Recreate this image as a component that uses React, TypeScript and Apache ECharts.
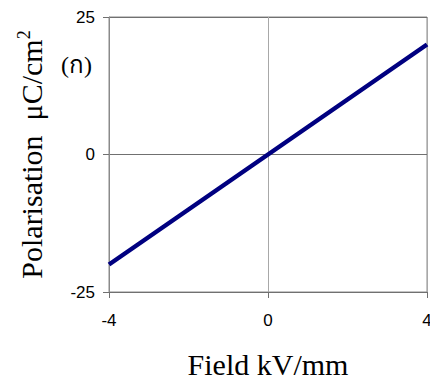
import React, { useEffect, useRef } from "react";
import * as echarts from "echarts";

const field = [-4, -2, 0, 2, 4];
const polarisation = [-20, -10, 0, 10, 20];
const xTicks = { min: -4, max: 4, interval: 4 };
const yTicks = { min: -25, max: 25, interval: 25 };
const xTitle = "Field kV/mm";
const yTitle = "Polarisation  μC/cm";
const panelLabel = "(ก)";

export default function App() {
  const ref = useRef<HTMLDivElement>(null);
  useEffect(() => {
    if (!ref.current) return;
    const chart = echarts.init(ref.current, null, { renderer: "svg" });
    chart.setOption({
      animation: false,
      backgroundColor: "#ffffff",
      grid: {
        left: 109,
        top: 17,
        right: 3,
        bottom: 91,
        show: true,
        borderColor: "#8a8a8a",
        borderWidth: 1,
        containLabel: false,
        outerBoundsMode: "none",
      },
      xAxis: {
        type: "value",
        min: xTicks.min,
        max: xTicks.max,
        interval: xTicks.interval,
        name: xTitle,
        nameLocation: "middle",
        nameGap: 57,
        nameTextStyle: { fontFamily: "Liberation Serif", fontSize: 30, color: "#000" },
        axisLine: { show: true, onZero: false, lineStyle: { color: "#707070" } },
        axisTick: { show: true, inside: false, length: 6, lineStyle: { color: "#707070" } },
        axisLabel: { margin: 20, fontFamily: "Liberation Sans", fontSize: 17, color: "#000" },
        splitLine: { show: true, lineStyle: { color: "#a8a8a8", width: 1 } },
      },
      yAxis: {
        type: "value",
        min: yTicks.min,
        max: yTicks.max,
        interval: yTicks.interval,
        name: yTitle + "{sup|2}",
        nameLocation: "middle",
        nameGap: 62,
        nameRotate: 90,
        nameTextStyle: {
          fontFamily: "Liberation Serif",
          fontSize: 30,
          color: "#000",
          rich: {
            sup: { fontFamily: "Liberation Serif", fontSize: 18, verticalAlign: "top", padding: [0, 0, 14, 0], color: "#000" },
          },
        },
        axisLine: { show: true, onZero: false, lineStyle: { color: "#8a8a8a" } },
        axisTick: { show: true, inside: false, length: 6, lineStyle: { color: "#707070" } },
        axisLabel: { margin: 14, fontFamily: "Liberation Sans", fontSize: 17, color: "#000" },
        splitLine: { show: true, lineStyle: { color: "#707070", width: 1 } },
      },
      graphic: [
        {
          type: "text",
          left: 61,
          top: 53,
          style: { text: panelLabel, fontFamily: "Liberation Serif, Noto Sans", fontSize: 24, fill: "#000" },
        },
      ],
      series: [
        {
          type: "line",
          data: field.map((x, i) => [x, polarisation[i]]),
          showSymbol: false,
          lineStyle: { color: "#000080", width: 4.5 },
          itemStyle: { color: "#000080" },
        },
      ],
    });
    return () => chart.dispose();
  }, []);
  return (
    <div
      ref={ref}
      style={{ position: "fixed", left: 0, top: 0, width: 430, height: 383, background: "#fff" }}
    />
  );
}
